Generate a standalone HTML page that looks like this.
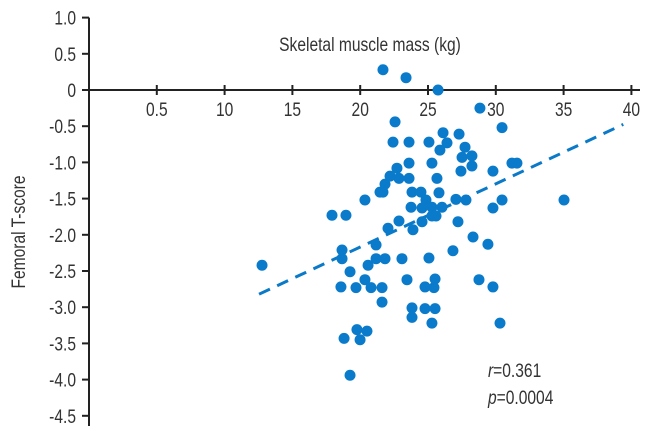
<!DOCTYPE html>
<html><head><meta charset="utf-8"><style>
html,body{margin:0;padding:0;background:#fff;}
svg text{font-family:"Liberation Sans",sans-serif;fill:#333;}
</style></head><body>
<svg id="chart" width="646" height="441" viewBox="0 0 646 441" xmlns="http://www.w3.org/2000/svg" style="position:absolute;left:0;top:0"></svg>
<script>
const xTicks = [5, 10, 15, 20, 25, 30, 35, 40];
const xTickLabels = ["0.5", "10", "15", "20", "25", "30", "35", "40"];
const yTicks = [1.0, 0.5, 0, -0.5, -1.0, -1.5, -2.0, -2.5, -3.0, -3.5, -4.0, -4.5];
const yTickLabels = ["1.0", "0.5", "0", "-0.5", "-1.0", "-1.5", "-2.0", "-2.5", "-3.0", "-3.5", "-4.0", "-4.5"];
const muscleMass = [21.68,23.38,25.74,28.83,22.57,30.46,26.11,27.29,22.42,23.60,25.07,26.40,27.73,25.88,28.24,27.51,23.60,25.29,31.19,31.56,28.24,22.71,27.43,29.79,22.20,22.86,23.60,25.66,21.83,21.46,21.68,23.82,24.48,25.81,20.35,24.85,27.06,27.80,30.46,35.03,23.75,24.56,25.29,26.03,29.79,17.92,18.95,25.29,25.59,22.86,24.56,27.21,22.05,23.89,28.32,21.17,29.42,18.66,26.84,18.66,21.17,21.83,23.08,25.07,12.76,20.58,19.25,20.35,23.45,25.52,28.76,18.58,19.69,20.80,21.61,24.78,25.44,29.79,21.61,23.82,24.78,25.52,23.82,25.29,30.31,19.76,20.50,18.81,19.99,19.25];
const tScore = [0.28,0.17,0,-0.25,-0.44,-0.52,-0.59,-0.61,-0.72,-0.72,-0.72,-0.73,-0.79,-0.83,-0.91,-0.93,-1.01,-1.01,-1.01,-1.01,-1.05,-1.08,-1.12,-1.12,-1.19,-1.22,-1.22,-1.22,-1.30,-1.41,-1.41,-1.41,-1.41,-1.42,-1.52,-1.52,-1.51,-1.52,-1.52,-1.52,-1.62,-1.63,-1.62,-1.62,-1.63,-1.73,-1.73,-1.74,-1.74,-1.81,-1.82,-1.82,-1.91,-1.93,-2.03,-2.14,-2.13,-2.21,-2.22,-2.33,-2.33,-2.33,-2.33,-2.32,-2.42,-2.42,-2.51,-2.62,-2.62,-2.61,-2.62,-2.72,-2.73,-2.73,-2.73,-2.72,-2.73,-2.72,-2.93,-3.01,-3.02,-3.02,-3.14,-3.22,-3.22,-3.31,-3.33,-3.43,-3.45,-3.94];
const fitRange = [12.54, 39.4];
const fitCoef = [-3.915, 0.0873];

const NS = "http://www.w3.org/2000/svg";
const svg = document.getElementById("chart");
const sx = v => 89 + 13.56 * v;
const sy = v => 90 - 72.4 * v;
function mk(tag, attrs, parent) {
  const e = document.createElementNS(NS, tag);
  for (const k in attrs) e.setAttribute(k, attrs[k]);
  (parent || svg).appendChild(e);
  return e;
}
let ax = mk("line", {x1: sx(0), y1: sy(0), x2: 640, y2: sy(0), stroke: "#222", "stroke-width": 2});


let ay = mk("line", {x1: 89, y1: sy(1.0), x2: 89, y2: 426, stroke: "#222", "stroke-width": 2});


xTicks.forEach((t, i) => {
  const tk = mk("line", {x1: sx(t), y1: sy(0) - 5, x2: sx(t), y2: sy(0) + 5, stroke: "#222", "stroke-width": 2});
  
  
  const tl = mk("text", {transform: "translate(" + sx(t) + ",116) scale(0.82,1)", "text-anchor": "middle", "font-size": 19});
  tl.textContent = xTickLabels[i];
  
  
});
yTicks.forEach((t, i) => {
  const tk = mk("line", {x1: 82, y1: sy(t), x2: 89, y2: sy(t), stroke: "#222", "stroke-width": 2});
  
  
  const tl = mk("text", {transform: "translate(76," + (sy(t) + 7) + ") scale(0.82,1)", "text-anchor": "end", "font-size": 19});
  tl.textContent = yTickLabels[i];
  
  
});
const fl = mk("line", {x1: sx(fitRange[0]), y1: sy(fitCoef[0] + fitCoef[1] * fitRange[0]), x2: sx(fitRange[1]), y2: sy(fitCoef[0] + fitCoef[1] * fitRange[1]), stroke: "#0a7ac8", "stroke-width": 3, "stroke-dasharray": "12 8"});


muscleMass.forEach((m, i) => {
  const c = mk("circle", {cx: sx(m), cy: sy(tScore[i]), r: 5.5, fill: "#0a7acb"});
  
  
});
</script>
<svg style="position:absolute;left:0;top:0" width="646" height="441">
  <text transform="translate(370,51) scale(0.82,1)" text-anchor="middle" font-size="19" style="font-family:'Liberation Sans',sans-serif;fill:#333">Skeletal muscle mass (kg)</text>
  <text transform="translate(25,232) rotate(-90) scale(0.82,1)" text-anchor="middle" font-size="19" style="font-family:'Liberation Sans',sans-serif;fill:#333">Femoral T-score</text>
  <text transform="translate(488,377) scale(0.82,1)" font-size="19" style="font-family:'Liberation Sans',sans-serif;fill:#333"><tspan font-style="italic">r</tspan>=0.361</text>
  <text transform="translate(488,404) scale(0.82,1)" font-size="19" style="font-family:'Liberation Sans',sans-serif;fill:#333"><tspan font-style="italic">p</tspan>=0.0004</text>
</svg>
</body></html>
